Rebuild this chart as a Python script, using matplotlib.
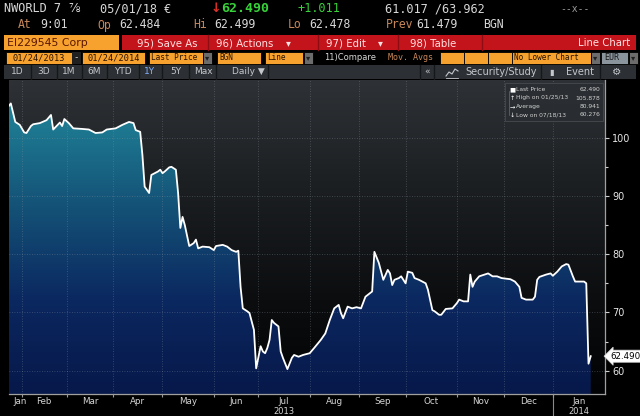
import numpy as np
import matplotlib.pyplot as plt
import matplotlib.transforms as mtransforms
from matplotlib.colors import LinearSegmentedColormap
from matplotlib.patches import Rectangle

# trading sessions counted from 01/24/2013 (weekdays only) and last price
start = '2013-01-24'
session = [0, 1, 3, 5, 7, 8, 10, 11, 14, 17, 19, 20, 22, 23, 24, 25, 27, 29, 33, 36,
           39, 42, 44, 48, 51, 54, 56, 57, 59, 60, 61, 63, 64, 66, 67, 68, 69, 70, 72, 73,
           75, 76, 77, 78, 79, 81, 83, 84, 85, 87, 90, 92, 93, 96, 98, 100, 102, 103, 104, 105,
           107, 108, 110, 111, 113, 114, 115, 116, 117, 118, 119, 121, 122, 123, 125, 127, 128, 130, 132, 135,
           137, 140, 142, 144, 146, 148, 149, 150, 152, 154, 156, 158, 160, 161, 163, 164, 166, 168, 170, 171,
           172, 173, 175, 176, 177, 178, 179, 181, 182, 184, 187, 188, 190, 191, 193, 194, 196, 199, 201, 202,
           204, 206, 207, 208, 209, 211, 215, 217, 219, 221, 225, 227, 229, 230, 232, 235, 236, 237, 238, 241,
           243, 244, 246, 248, 250, 251, 253, 254, 256, 258, 259, 260, 261]
price = [105.4, 105.878, 102.7, 102.2, 100.9, 100.8, 102.0, 102.3, 102.5, 103.0, 103.9, 101.4, 102.2, 102.6, 102.0, 103.2, 102.5, 101.6, 101.5, 101.4,
         100.8, 100.9, 101.4, 101.6, 102.2, 102.7, 102.5, 101.3, 101.0, 97.0, 91.6, 90.5, 93.6, 94.0, 94.2, 94.5, 93.9, 94.2, 94.9, 95.0,
         94.5, 90.5, 84.5, 86.4, 85.0, 81.4, 81.9, 82.5, 81.0, 81.3, 81.2, 80.7, 81.4, 81.6, 81.3, 80.7, 80.4, 80.6, 74.4, 70.7,
         70.2, 69.9, 67.0, 60.4, 64.2, 63.3, 63.0, 63.9, 65.3, 68.7, 68.2, 67.6, 63.3, 62.2, 60.276, 62.2, 62.7, 62.4, 62.7, 63.0,
         63.9, 65.3, 66.4, 68.7, 70.7, 71.3, 69.9, 69.0, 71.0, 70.7, 70.9, 70.7, 72.7, 73.0, 73.6, 80.4, 78.5, 75.6, 77.3, 76.7,
         74.7, 75.6, 75.9, 76.2, 75.6, 75.0, 77.0, 76.8, 75.9, 75.6, 75.0, 73.9, 70.4, 70.2, 69.6, 69.6, 70.6, 70.7, 71.6, 72.2,
         71.9, 71.9, 76.5, 74.4, 75.3, 76.2, 76.7, 76.2, 76.2, 75.9, 75.7, 75.3, 74.4, 72.5, 72.2, 72.2, 72.7, 75.6, 76.1, 76.5,
         76.7, 76.3, 77.0, 77.9, 78.3, 78.2, 76.2, 75.3, 75.3, 75.3, 75.0, 61.2, 62.49]

month_starts = ['2013-02-01', '2013-03-01', '2013-04-01', '2013-05-01', '2013-06-01', '2013-07-01',
                '2013-08-01', '2013-09-01', '2013-10-01', '2013-11-01', '2013-12-01', '2014-01-01']
month_names = ['Jan', 'Feb', 'Mar', 'Apr', 'May', 'Jun', 'Jul', 'Aug', 'Sep', 'Oct', 'Nov', 'Dec', 'Jan']
year_names = {6: '2013', 12: '2014'}
yticks = [60, 70, 80, 90, 100]

stat_names = ['Last Price', 'High on 01/25/13', 'Average', 'Low on 07/18/13']
stat_values = ['62.490', '105.878', '80.941', '60.276']
stat_icons = ['■', '↑', '→', '↓']

x_end = 267.4
y_lo, y_hi = 56.0, 109.9

fig = plt.figure(figsize=(6.4, 4.16), dpi=100, facecolor='black')

# ---- terminal header (pixel coords overlay) ----
hd = fig.add_axes([0, 0, 1, 1], zorder=0)
hd.set_xlim(0, 640)
hd.set_ylim(416, 0)
hd.axis('off')
hd.set_facecolor('black')

mono = ['DejaVu Sans Mono', 'DejaVu Sans']
sans = ['DejaVu Sans']
white = '#d8d8d8'
tan = '#c8875a'

hd.text(4, 9, 'NWORLD 7', family=mono, size=8.6, color=white, va='center')
hd.text(68, 9, '⅞', family=sans, size=8.6, color=white, va='center')
hd.text(100, 9, '05/01/18 €', family=mono, size=8.6, color=white, va='center')
hd.text(211, 9, '↓', family=sans, size=9, color='#e0302a', va='center', fontweight='bold')
hd.text(221, 9, '62.490', family=mono, size=9.5, color='#37d23a', va='center', fontweight='bold')
hd.text(297, 9, '+1.011', family=mono, size=8.6, color='#37d23a', va='center')
hd.text(385, 9, '61.017 /63.962', family=mono, size=8.6, color=white, va='center')
hd.text(560, 9, '--x--', family=mono, size=7, color='#9a9a9a', va='center')

row2 = [(18, 'At', tan), (40, '9:01', white), (97, 'Op', tan), (119, '62.484', white),
        (193, 'Hi', tan), (214, '62.499', white), (288, 'Lo', tan), (309, '62.478', white),
        (386, 'Prev', tan), (416, '61.479', white), (483, 'BGN', white)]
for x, s, c in row2:
    hd.text(x, 25, s, family=mono, size=8.3, color=c, va='center')

# row 3: ticker box + red action bar
orange = '#f7a22e'
hd.add_patch(Rectangle((4, 35), 115, 15, fc=orange, ec='none'))
hd.text(7, 43, 'EI229545 Corp', family=sans, size=7.8, color='#5a1600', va='center')
hd.add_patch(Rectangle((122, 35), 514, 15, fc='#c3141c', ec='none'))
for xs in [208, 318, 398, 482]:
    hd.plot([xs, xs], [35, 50], color='#8e0d12', lw=1)
red_txt = '#ffe3e3'
hd.text(137, 43, '95) Save As', family=sans, size=7.3, color=red_txt, va='center')
hd.text(216, 43, '96) Actions', family=sans, size=7.3, color=red_txt, va='center')
hd.text(286, 43, '▾', family=sans, size=7, color=red_txt, va='center')
hd.text(326, 43, '97) Edit', family=sans, size=7.3, color=red_txt, va='center')
hd.text(378, 43, '▾', family=sans, size=7, color=red_txt, va='center')
hd.text(410, 43, '98) Table', family=sans, size=7.3, color=red_txt, va='center')
hd.text(630, 43, 'Line Chart', family=sans, size=7.3, color=red_txt, va='center', ha='right')

# row 4: inputs
inputs = [(6, 66, '01/24/2013', 'c'), (82, 63, '01/24/2014', 'c'), (149, 54, 'Last Price', 'l'),
          (217, 44, 'BGN', 'l'), (265, 38, 'Line', 'l'), (440, 24, '', 'l'), (464, 24, '', 'l'),
          (488, 24, '', 'l'), (512, 79, 'No Lower Chart', 'l')]
for x, w, s, al in inputs:
    hd.add_patch(Rectangle((x, 52), w, 12, fc=orange, ec='black', lw=0.6))
    if al == 'c':
        hd.text(x + w / 2, 58, s, family=mono, size=6.2, color='#2a1200', va='center', ha='center')
    else:
        hd.text(x + 2, 58, s, family=mono, size=5.6, color='#2a1200', va='center')
hd.add_patch(Rectangle((72, 52), 9, 12, fc='#202020', ec='none'))
hd.text(76.5, 58, '-', family=mono, size=6.5, color=white, va='center', ha='center')
for x in [203, 304, 591, 629]:
    hd.add_patch(Rectangle((x, 52), 9, 12, fc='#6c6c6c', ec='black', lw=0.6))
    hd.text(x + 4.5, 58, '▾', family=sans, size=6, color='#202020', va='center', ha='center')
hd.add_patch(Rectangle((601, 52), 27, 12, fc='#8a949c', ec='black', lw=0.6))
hd.text(604, 58, 'EUR', family=mono, size=6.0, color='#1a1a1a', va='center')
hd.text(324, 58, '11)Compare', family=sans, size=6.0, color=white, va='center')
hd.text(388, 58, 'Mov. Avgs', family=mono, size=6.0, color=tan, va='center')

# row 5: period buttons
hd.add_patch(Rectangle((4, 65), 632, 14, fc='#2c3034', ec='none'))
periods = [(17, '1D'), (44, '3D'), (69, '1M'), (94, '6M'), (123, 'YTD'), (150, '1Y'),
           (176, '5Y'), (203, 'Max'), (232, 'Daily ▼')]
for x, s in periods:
    hd.text(x, 72, s, family=sans, size=6.5, color='#7fb0ff' if s == '1Y' else '#c4c8cc',
            va='center', ha='center' if len(s) < 4 else 'left')
for xs in [31, 57, 82, 107, 139, 162, 189, 216, 268, 420, 434, 541, 600]:
    hd.plot([xs, xs], [65, 79], color='#15181a', lw=1)
hd.text(427, 72, '«', family=sans, size=6.5, color='#c4c8cc', va='center', ha='center')
# small study icon
hd.plot([446, 449, 452, 455, 458], [76, 72, 74, 69, 71], color='#c4c8cc', lw=0.8)
hd.plot([446, 458], [77.5, 77.5], color='#c4c8cc', lw=0.6)
hd.text(465, 72, 'Security/Study', family=sans, size=7, color='#c4c8cc', va='center')
hd.text(549, 72, '▮', family=sans, size=6, color='#c4c8cc', va='center')
hd.text(566, 72, 'Event', family=sans, size=7, color='#c4c8cc', va='center')
hd.text(617, 72, '⚙', family=sans, size=7.5, color='#c4c8cc', va='center', ha='center')

# ---- price chart ----
ax = fig.add_axes([8.6 / 640, 22 / 416, (605 - 8.6) / 640, (394 - 80) / 416], zorder=1)
ax.set_xlim(0, x_end)
ax.set_ylim(y_lo, y_hi)

bg_cmap = LinearSegmentedColormap.from_list(
    'bg', [(0, '#020304'), (0.3, '#0b0d0f'), (0.7, '#1e2124'), (1, '#2e3236')])
fill_cmap = LinearSegmentedColormap.from_list(
    'fill', [(0, '#07184a'), (0.3, '#0b2860'), (0.6, '#145277'), (0.85, '#1d7890'), (1, '#2289a0')])
grad = np.linspace(0, 1, 256).reshape(-1, 1)
ext = [0, x_end, y_lo, y_hi]
ax.imshow(grad, extent=ext, origin='lower', aspect='auto', cmap=bg_cmap, zorder=0)
poly = ax.fill_between(session, price, y_lo, color='none', lw=0)
fill_im = ax.imshow(grad, extent=ext, origin='lower', aspect='auto', cmap=fill_cmap, zorder=1)
fill_im.set_clip_path(poly.get_paths()[0], transform=ax.transData)
ax.plot(session, price, color='white', lw=1.3, zorder=3)

bounds = np.busday_count(start, month_starts)
ax.set_xticks(bounds)
ax.set_xticklabels([])
ax.set_yticks(yticks)
ax.set_yticks(np.array(yticks[:-1]) + 5, minor=True)
ax.yaxis.tick_right()
ax.tick_params(axis='y', which='both', colors='#cfcfcf', labelcolor='#e6e6e6',
               labelsize=7, length=3, width=0.8, pad=2)
ax.tick_params(axis='y', which='minor', length=2)
ax.tick_params(axis='x', colors='#9a9a9a', length=2.5, width=0.8)
for side in ['left', 'top']:
    ax.spines[side].set_visible(False)
for side in ['right', 'bottom']:
    ax.spines[side].set_color('#a0a0a0')
    ax.spines[side].set_linewidth(0.9)
ax.set_axisbelow(False)
ax.grid(True, which='major', color='#8a96a2', alpha=0.45, lw=0.6, ls=(0, (1, 2)))

# month labels centred in each month's span
edges = np.concatenate([[0], bounds, [x_end]])
centres = (edges[:-1] + edges[1:]) / 2
centres[0] = max(centres[0], 5)
trans = mtransforms.blended_transform_factory(ax.transData, ax.transAxes)
for i, (c, name) in enumerate(zip(centres, month_names)):
    ax.text(c, -0.01, name, transform=trans, ha='center', va='top', size=6.3,
            color='#d4d4d4', clip_on=False)
    if i in year_names:
        ax.text(c, -0.042, year_names[i], transform=trans, ha='center', va='top', size=6.0,
                color='#d4d4d4', clip_on=False)
ax.plot([bounds[-1]] * 2, [0, -0.075], transform=trans, color='#8a8a8a', lw=0.8, clip_on=False)

# last price tag
ax.annotate(stat_values[0], xy=(1, price[-1]), xycoords=('axes fraction', 'data'),
            xytext=(4, 0), textcoords='offset points', ha='left', va='center', size=6.3,
            color='black', annotation_clip=False,
            bbox=dict(boxstyle='larrow,pad=0.18', fc='white', ec='#cccccc', lw=0.5))

# ---- legend box (top overlay) ----
top = fig.add_axes([0, 0, 1, 1], zorder=2)
top.set_xlim(0, 640)
top.set_ylim(416, 0)
top.axis('off')
top.patch.set_alpha(0)
top.add_patch(Rectangle((505, 83), 98, 38, fc='#2a2d31', ec='#4a4d52', lw=0.6, alpha=0.92))
top.plot([509, 509], [91, 115], color='#6a6d72', lw=0.5)
for i, (ic, nm, val) in enumerate(zip(stat_icons, stat_names, stat_values)):
    y = 89.5 + i * 8.5
    top.text(512, y, ic, family=sans, size=4.6, color='white', va='center', ha='center')
    top.text(516, y, nm, family=sans, size=4.3, color='#d0d0d0', va='center')
    top.text(600, y, val, family=sans, size=4.3, color='#d0d0d0', va='center', ha='right')

fig.savefig('out.png', dpi=100, facecolor='black')
